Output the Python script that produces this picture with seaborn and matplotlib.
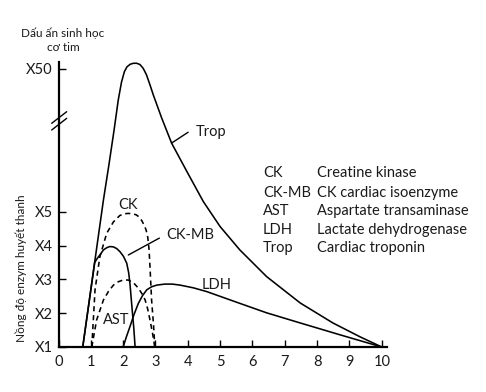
import numpy as np
import matplotlib
matplotlib.use("Agg")
import matplotlib.pyplot as plt
import seaborn as sns
import pandas as pd

# ---- data (x = days, y = fold increase of serum enzyme) ----
trop_x = [0.75, 1.39, 1.56, 1.72, 1.85, 1.95, 2.04, 2.12, 2.22, 2.32, 2.42, 2.52, 2.62,
          2.72, 2.83, 2.93, 3.19, 3.50, 3.97, 4.48, 5.00, 5.61, 6.44, 7.48, 8.49, 9.33, 10.0]
trop_y = [1.0, 8.7, 19.8, 30.8, 40.3, 45.9, 49.2, 50.7, 51.5, 51.8, 51.8, 51.4, 50.2,
          48.2, 45.0, 41.9, 34.6, 26.6, 17.7, 8.2, 4.56, 3.87, 3.08, 2.30, 1.71, 1.30, 1.0]

ck_x = [1.03, 1.13, 1.28, 1.49, 1.70, 1.90, 2.05, 2.16, 2.28, 2.40, 2.50, 2.58, 2.66, 2.71,
        2.76, 2.80, 2.83, 2.88, 2.94, 2.98]
ck_y = [1.0, 2.69, 3.67, 4.36, 4.70, 4.89, 4.94, 4.95, 4.94, 4.91, 4.84, 4.73, 4.58, 4.46,
        4.25, 3.90, 3.38, 2.39, 1.65, 1.0]

ckmb_x = [0.75, 1.12, 1.20, 1.28, 1.39, 1.50, 1.59, 1.70, 1.80, 1.90, 2.01, 2.11, 2.17,
          2.21, 2.28, 2.33, 2.37]
ckmb_y = [1.0, 3.50, 3.62, 3.72, 3.87, 3.94, 3.97, 3.96, 3.91, 3.82, 3.68, 3.48, 3.20,
          2.88, 2.09, 1.55, 1.0]

ast_x = [1.03, 1.18, 1.39, 1.55, 1.70, 1.85, 2.00, 2.16, 2.32, 2.47, 2.58, 2.68, 2.76,
         2.83, 2.91, 2.98]
ast_y = [1.0, 1.80, 2.39, 2.65, 2.83, 2.93, 2.98, 2.98, 2.90, 2.74, 2.58, 2.39, 2.12,
         1.80, 1.40, 1.0]

ldh_x = [2.00, 2.10, 2.21, 2.34, 2.47, 2.60, 2.73, 2.88, 3.04, 3.29, 3.52, 3.76, 4.17,
         4.58, 5.61, 6.44, 7.48, 8.71, 10.0]
ldh_y = [1.0, 1.30, 1.60, 1.97, 2.29, 2.52, 2.69, 2.78, 2.83, 2.86, 2.86, 2.83, 2.75,
         2.64, 2.29, 2.01, 1.71, 1.36, 1.0]

x_ticks = list(range(0, 11))
y_ticks = [1, 2, 3, 4, 5, 50]
y_ticklabels = ["X1", "X2", "X3", "X4", "X5", "X50"]

legend_abbr = ["CK", "CK-MB", "AST", "LDH", "Trop"]
legend_desc = ["Creatine kinase", "CK cardiac isoenzyme", "Aspartate transaminase",
               "Lactate dehydrogenase", "Cardiac troponin"]

title_text = "Dấu ấn sinh học\ncơ tim"
ylabel_text = "Nồng độ enzym huyết thanh"

# ---- styling ----
sns.set_theme(style="white")
FAM = ["Lato", "Noto Sans", "DejaVu Sans"]
plt.rcParams["font.family"] = FAM
TXT = "#1a1a1a"

K = 0.09378  # compression of the axis above X5 (broken axis)


def fwd(v):
    v = np.asarray(v, dtype=float)
    return np.where(v <= 5, v, 5 + (v - 5) * K)


def inv(p):
    p = np.asarray(p, dtype=float)
    return np.where(p <= 5, p, 5 + (p - 5) / K)


W, H = 486, 392
fig = plt.figure(figsize=(W / 100, H / 100), dpi=100)
fig.patch.set_facecolor("white")
ax = fig.add_axes([58.5 / W, (H - 347) / H, (386.6 - 58.5) / W, (347 - 62) / H])
ax.set_yscale("function", functions=(fwd, inv))

solid = dict(color="black", lw=1.15, clip_on=False)
dashed = dict(color="black", lw=1.15, clip_on=False, dashes=(3.2, 2.4))

df = pd.concat([
    pd.DataFrame({"day": trop_x, "fold": trop_y, "marker": "Trop"}),
    pd.DataFrame({"day": ldh_x, "fold": ldh_y, "marker": "LDH"}),
    pd.DataFrame({"day": ckmb_x, "fold": ckmb_y, "marker": "CK-MB"}),
])
for name in ["Trop", "LDH", "CK-MB"]:
    sub = df[df["marker"] == name]
    sns.lineplot(data=sub, x="day", y="fold", ax=ax, sort=False, estimator=None,
                 legend=False, **solid)
for xs, ys in [(ck_x, ck_y), (ast_x, ast_y)]:
    sub = pd.DataFrame({"day": xs, "fold": ys})
    sns.lineplot(data=sub, x="day", y="fold", ax=ax, sort=False, estimator=None,
                 legend=False, **dashed)

ax.set_xlim(0, 10.15)
ax.set_ylim(1, 52.2)
ax.set_xticks(x_ticks)
ax.set_xticklabels([str(t) for t in x_ticks])
ax.set_yticks(y_ticks)
ax.set_yticklabels(y_ticklabels)
ax.minorticks_off()
ax.set_xlabel("")
ax.set_ylabel("")

for side in ["top", "right"]:
    ax.spines[side].set_visible(False)
for side in ["left", "bottom"]:
    ax.spines[side].set_color("black")
    ax.spines[side].set_linewidth(1.6)

ax.tick_params(axis="both", direction="in", length=5, width=1.0, color="black",
               labelcolor=TXT, labelsize=10.5)
ax.tick_params(axis="x", pad=6)
ax.tick_params(axis="y", pad=4, left=True)
ax.tick_params(axis="x", bottom=True)

# axis break marks
aw, ah = 386.6 - 58.5, 347 - 62
for py0, py1 in [(123.3, 111.7), (130.0, 118.3)]:
    ax.plot([(51.7 - 58.5) / aw, (66.7 - 58.5) / aw], [(347 - py0) / ah, (347 - py1) / ah],
            transform=ax.transAxes, color="black", lw=1.0, clip_on=False)

# curve labels
lab = dict(fontsize=10.5, color=TXT)
ax.text(2.16, float(inv(5.20)), "CK", ha="center", va="center", **lab)
ax.text(3.32, float(inv(4.31)), "CK-MB", ha="left", va="center", **lab)
ax.plot([2.16, 3.12], [float(inv(3.72)), float(inv(4.22))], color="black", lw=1.0)
ax.text(1.77, 1.80, "AST", ha="center", va="center", **lab)
ax.text(4.43, 2.83, "LDH", ha="left", va="center", **lab)
ax.text(4.25, float(inv(7.36)), "Trop", ha="left", va="center", **lab)
ax.plot([3.50, 4.01], [float(inv(7.03)), float(inv(7.35))], color="black", lw=1.0)

# legend block
rows = [173.3, 192.7, 211.0, 230.0, 248.3]
for a, d, py in zip(legend_abbr, legend_desc, rows):
    fig.text(263 / W, 1 - py / H, a, ha="left", va="center", fontsize=10.5, color=TXT)
    fig.text(316.7 / W, 1 - py / H, d, ha="left", va="center", fontsize=10.5, color=TXT)

# title and y label
fig.text(63 / W, 1 - 40 / H, title_text, ha="center", va="center", fontsize=8.5,
         color=TXT, linespacing=1.35, multialignment="center")
fig.text(21.7 / W, 1 - 268 / H, ylabel_text, ha="center", va="center", rotation=90,
         fontsize=8.5, color=TXT)

fig.savefig("out.png", dpi=100, facecolor="white")
